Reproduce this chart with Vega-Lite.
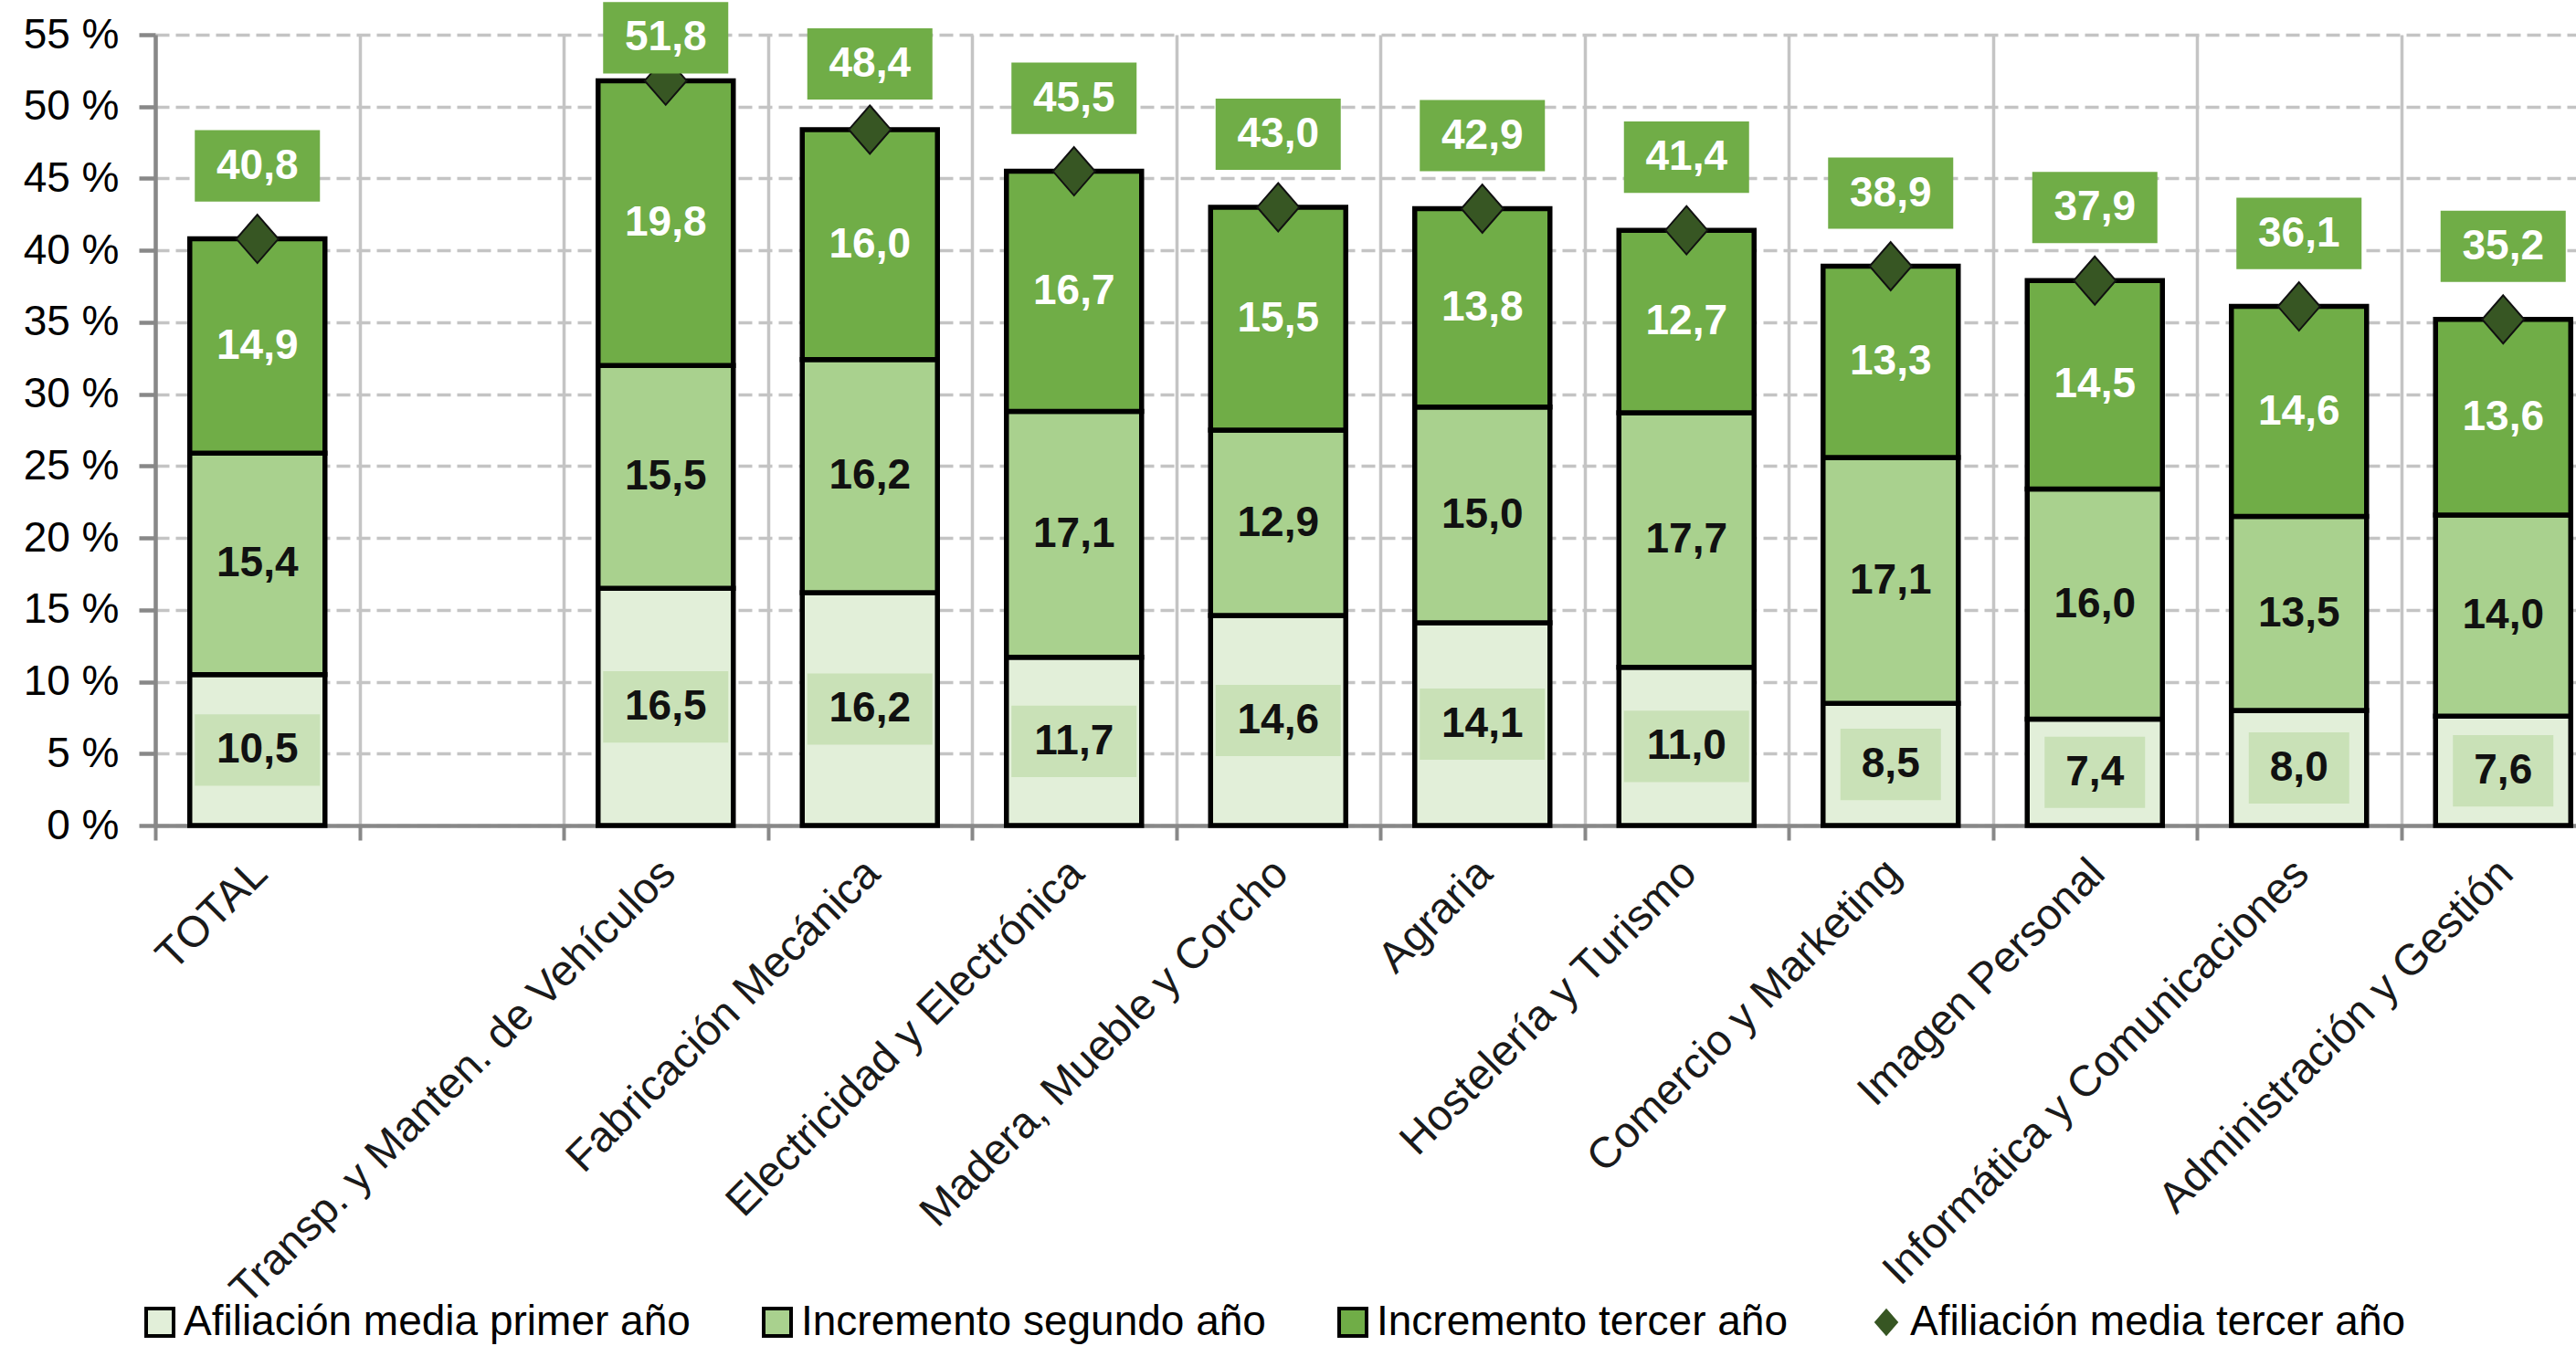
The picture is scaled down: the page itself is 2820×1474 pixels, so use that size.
{
  "$schema": "https://vega.github.io/schema/vega-lite/v6.json",
  "autosize": {"type": "none"},
  "padding": {"left": 170, "top": 38, "right": 0, "bottom": 570},
  "width": 2650,
  "height": 866,
  "background": "white",
  "config": {
    "view": {"stroke": null},
    "font": "Liberation Sans",
    "locale": {"number": {"decimal": ",", "thousands": ".", "grouping": [3], "currency": ["", " €"]}}
  },
  "datasets": {
    "seg": [
      {"cat": "TOTAL", "serie": "Afiliación media primer año", "orden": 1, "valor": 10.5},
      {"cat": "TOTAL", "serie": "Incremento segundo año", "orden": 2, "valor": 15.4},
      {"cat": "TOTAL", "serie": "Incremento tercer año", "orden": 3, "valor": 14.9},
      {"cat": "Transp. y Manten. de Vehículos", "serie": "Afiliación media primer año", "orden": 1, "valor": 16.5},
      {"cat": "Transp. y Manten. de Vehículos", "serie": "Incremento segundo año", "orden": 2, "valor": 15.5},
      {"cat": "Transp. y Manten. de Vehículos", "serie": "Incremento tercer año", "orden": 3, "valor": 19.8},
      {"cat": "Fabricación Mecánica", "serie": "Afiliación media primer año", "orden": 1, "valor": 16.2},
      {"cat": "Fabricación Mecánica", "serie": "Incremento segundo año", "orden": 2, "valor": 16.2},
      {"cat": "Fabricación Mecánica", "serie": "Incremento tercer año", "orden": 3, "valor": 16.0},
      {"cat": "Electricidad y Electrónica", "serie": "Afiliación media primer año", "orden": 1, "valor": 11.7},
      {"cat": "Electricidad y Electrónica", "serie": "Incremento segundo año", "orden": 2, "valor": 17.1},
      {"cat": "Electricidad y Electrónica", "serie": "Incremento tercer año", "orden": 3, "valor": 16.7},
      {"cat": "Madera, Mueble y Corcho", "serie": "Afiliación media primer año", "orden": 1, "valor": 14.6},
      {"cat": "Madera, Mueble y Corcho", "serie": "Incremento segundo año", "orden": 2, "valor": 12.9},
      {"cat": "Madera, Mueble y Corcho", "serie": "Incremento tercer año", "orden": 3, "valor": 15.5},
      {"cat": "Agraria", "serie": "Afiliación media primer año", "orden": 1, "valor": 14.1},
      {"cat": "Agraria", "serie": "Incremento segundo año", "orden": 2, "valor": 15.0},
      {"cat": "Agraria", "serie": "Incremento tercer año", "orden": 3, "valor": 13.8},
      {"cat": "Hostelería y Turismo", "serie": "Afiliación media primer año", "orden": 1, "valor": 11.0},
      {"cat": "Hostelería y Turismo", "serie": "Incremento segundo año", "orden": 2, "valor": 17.7},
      {"cat": "Hostelería y Turismo", "serie": "Incremento tercer año", "orden": 3, "valor": 12.7},
      {"cat": "Comercio y Marketing", "serie": "Afiliación media primer año", "orden": 1, "valor": 8.5},
      {"cat": "Comercio y Marketing", "serie": "Incremento segundo año", "orden": 2, "valor": 17.1},
      {"cat": "Comercio y Marketing", "serie": "Incremento tercer año", "orden": 3, "valor": 13.3},
      {"cat": "Imagen Personal", "serie": "Afiliación media primer año", "orden": 1, "valor": 7.4},
      {"cat": "Imagen Personal", "serie": "Incremento segundo año", "orden": 2, "valor": 16.0},
      {"cat": "Imagen Personal", "serie": "Incremento tercer año", "orden": 3, "valor": 14.5},
      {"cat": "Informática y Comunicaciones", "serie": "Afiliación media primer año", "orden": 1, "valor": 8.0},
      {"cat": "Informática y Comunicaciones", "serie": "Incremento segundo año", "orden": 2, "valor": 13.5},
      {"cat": "Informática y Comunicaciones", "serie": "Incremento tercer año", "orden": 3, "valor": 14.6},
      {"cat": "Administración y Gestión", "serie": "Afiliación media primer año", "orden": 1, "valor": 7.6},
      {"cat": "Administración y Gestión", "serie": "Incremento segundo año", "orden": 2, "valor": 14.0},
      {"cat": "Administración y Gestión", "serie": "Incremento tercer año", "orden": 3, "valor": 13.6}
    ],
    "tot": [
      {"cat": "TOTAL", "leyenda": "Afiliación media tercer año", "total": 40.8},
      {"cat": "Transp. y Manten. de Vehículos", "leyenda": "Afiliación media tercer año", "total": 51.8},
      {"cat": "Fabricación Mecánica", "leyenda": "Afiliación media tercer año", "total": 48.4},
      {"cat": "Electricidad y Electrónica", "leyenda": "Afiliación media tercer año", "total": 45.5},
      {"cat": "Madera, Mueble y Corcho", "leyenda": "Afiliación media tercer año", "total": 43.0},
      {"cat": "Agraria", "leyenda": "Afiliación media tercer año", "total": 42.9},
      {"cat": "Hostelería y Turismo", "leyenda": "Afiliación media tercer año", "total": 41.4},
      {"cat": "Comercio y Marketing", "leyenda": "Afiliación media tercer año", "total": 38.9},
      {"cat": "Imagen Personal", "leyenda": "Afiliación media tercer año", "total": 37.9},
      {"cat": "Informática y Comunicaciones", "leyenda": "Afiliación media tercer año", "total": 36.1},
      {"cat": "Administración y Gestión", "leyenda": "Afiliación media tercer año", "total": 35.2}
    ]
  },
  "encoding": {
    "x": {
      "field": "cat", "type": "nominal",
      "scale": {
        "domain": ["TOTAL", " ", "Transp. y Manten. de Vehículos", "Fabricación Mecánica", "Electricidad y Electrónica", "Madera, Mueble y Corcho", "Agraria", "Hostelería y Turismo", "Comercio y Marketing", "Imagen Personal", "Informática y Comunicaciones", "Administración y Gestión"],
        "range": [0, 2682], "paddingInner": 0, "paddingOuter": 0
      },
      "axis": {
        "title": null, "labelAngle": -45, "labelFontSize": 47.5, "labelColor": "#1a1a1a", "labelLimit": 0,
        "labelPadding": 12, "labelOffset": -14,
        "domainColor": "#888888", "domainWidth": 4.5,
        "tickColor": "#888888", "tickWidth": 4, "tickSize": 16, "tickBand": "extent",
        "grid": true, "gridColor": "#c4c4c4", "gridWidth": 3.5
      }
    }
  },
  "layer": [
    {
      "data": {"name": "seg"},
      "mark": {"type": "bar", "width": 148, "stroke": "black", "strokeWidth": 5.5},
      "encoding": {
        "y": {
          "field": "valor", "type": "quantitative", "stack": "zero",
          "scale": {"domain": [0, 55], "nice": false},
          "axis": {
            "title": null, "values": [0, 5, 10, 15, 20, 25, 30, 35, 40, 45, 50, 55],
            "labelExpr": "datum.value + ' %'", "labelFontSize": 46, "labelColor": "#000000",
            "domainColor": "#888888", "domainWidth": 4.5,
            "tickColor": "#888888", "tickWidth": 4.5, "tickSize": 18, "labelPadding": 22,
            "grid": true, "gridColor": "#c4c4c4", "gridWidth": 3.5, "gridDash": [15, 7]
          }
        },
        "fill": {
          "field": "serie", "type": "nominal",
          "scale": {"domain": ["Afiliación media primer año", "Incremento segundo año", "Incremento tercer año"], "range": ["#E2EFD9", "#A9D18E", "#70AD47"]},
          "legend": {
            "orient": "none", "legendX": -18, "legendY": 1387, "direction": "horizontal", "title": null,
            "labelFontSize": 46, "labelColor": "#000000", "labelLimit": 0, "labelOffset": 3,
            "symbolType": "square", "symbolSize": 900, "symbolStrokeColor": "black", "symbolStrokeWidth": 4,
            "columnPadding": 72
          }
        },
        "order": {"field": "orden"}
      }
    },
    {
      "data": {"name": "seg"},
      "transform": [{"filter": "datum.orden === 1 && datum.valor >= 10"}],
      "mark": {"type": "point", "shape": "M-1,-0.57H1V0.57H-1Z", "size": 18769, "filled": true, "fill": "#C9E1B7", "opacity": 1, "strokeWidth": 0},
      "encoding": {
        "y": {"field": "valor", "type": "quantitative", "stack": "zero", "bandPosition": 0.5},
        "detail": {"field": "serie"}
      }
    },
    {
      "data": {"name": "seg"},
      "transform": [{"filter": "datum.orden === 1 && datum.valor < 10"}],
      "mark": {"type": "point", "shape": "M-1,-0.71H1V0.71H-1Z", "size": 12100, "filled": true, "fill": "#C9E1B7", "opacity": 1, "strokeWidth": 0},
      "encoding": {
        "y": {"field": "valor", "type": "quantitative", "stack": "zero", "bandPosition": 0.5},
        "detail": {"field": "serie"}
      }
    },
    {
      "data": {"name": "seg"},
      "mark": {"type": "text", "fontSize": 46, "fontWeight": "bold", "baseline": "middle", "align": "center"},
      "encoding": {
        "y": {"field": "valor", "type": "quantitative", "stack": "zero", "bandPosition": 0.5},
        "detail": {"field": "serie"},
        "order": {"field": "orden"},
        "text": {"field": "valor", "type": "quantitative", "format": ".1f"},
        "color": {"condition": {"test": "datum.orden === 3", "value": "#ffffff"}, "value": "#111111"}
      }
    },
    {
      "data": {"name": "tot"},
      "mark": {"type": "point", "filled": true, "fill": "#375623", "stroke": "#111111", "strokeWidth": 2, "opacity": 1,
               "shape": "M0,-1.15L1,0L0,1.15L-1,0Z", "size": 2116},
      "encoding": {
        "y": {"field": "total", "type": "quantitative"},
        "shape": {
          "field": "leyenda", "type": "nominal",
          "scale": {"domain": ["Afiliación media tercer año"], "range": ["M0,-1.15L1,0L0,1.15L-1,0Z"]},
          "legend": {
            "orient": "none", "legendX": 1872, "legendY": 1387, "direction": "horizontal", "title": null,
            "labelFontSize": 46, "labelColor": "#000000", "labelLimit": 0, "labelOffset": 3,
            "symbolSize": 700, "symbolFillColor": "#375623", "symbolStrokeColor": "#111111", "symbolStrokeWidth": 2
          }
        }
      }
    },
    {
      "data": {"name": "tot"},
      "mark": {"type": "point", "shape": "M-1,-0.57H1V0.57H-1Z", "size": 18769, "filled": true, "fill": "#70AD47", "opacity": 1, "strokeWidth": 0,
               "yOffset": {"expr": "datum.total > 50 ? -47 : (datum.total > 47 ? -72 : -80)"}},
      "encoding": {
        "y": {"field": "total", "type": "quantitative"}
      }
    },
    {
      "data": {"name": "tot"},
      "mark": {"type": "text", "fontSize": 46, "fontWeight": "bold", "color": "#ffffff", "baseline": "middle", "align": "center",
               "yOffset": {"expr": "datum.total > 50 ? -47 : (datum.total > 47 ? -72 : -80)"}},
      "encoding": {
        "y": {"field": "total", "type": "quantitative"},
        "text": {"field": "total", "type": "quantitative", "format": ".1f"}
      }
    }
  ]
}
